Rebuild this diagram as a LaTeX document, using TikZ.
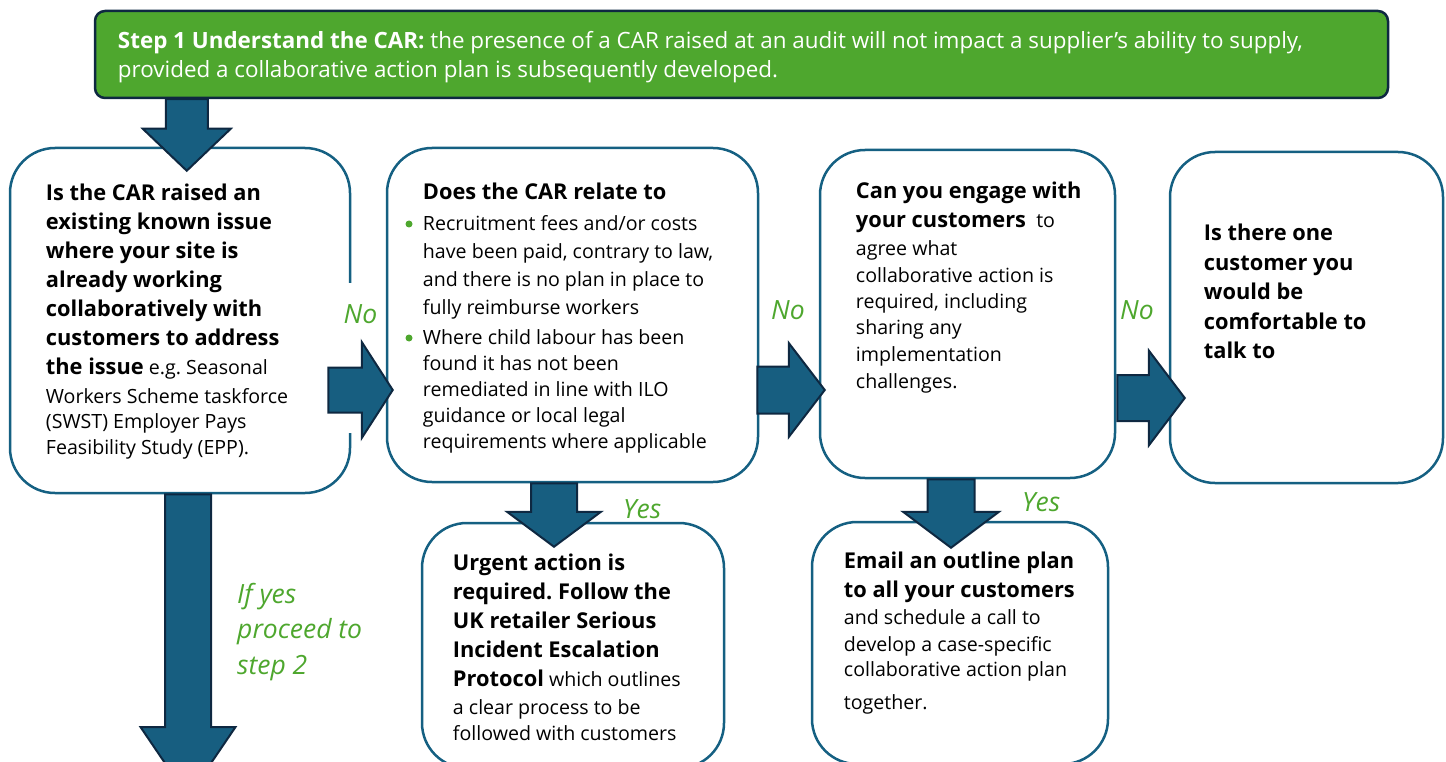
\documentclass[tikz,border=0pt]{standalone}
\usepackage{fontspec}
\setmainfont{Open Sans}
\usetikzlibrary{calc}
\frenchspacing

\definecolor{stepgreen}{HTML}{4EA72E}
\definecolor{navy}{HTML}{0E2841}
\definecolor{cardblue}{HTML}{156082}
\definecolor{arrowblue}{HTML}{175E80}

% block arrows: start, tip, shaft half width, head half width, head length
\newcommand{\fatdown}[5]{%
  \path[fatarrow] let \p1=#1, \p2=#2 in
    (\x1-#3,\y1) -- (\x1-#3,\y2+#5) -- (\x1-#4,\y2+#5) -- (\x1,\y2)
    -- (\x1+#4,\y2+#5) -- (\x1+#3,\y2+#5) -- (\x1+#3,\y1) -- cycle;}
\newcommand{\fatright}[5]{%
  \path[fatarrow] let \p1=#1, \p2=#2 in
    (\x1,\y1+#3) -- (\x2-#5,\y1+#3) -- (\x2-#5,\y1+#4) -- (\x2,\y1)
    -- (\x2-#5,\y1-#4) -- (\x2-#5,\y1-#3) -- (\x1,\y1-#3) -- cycle;}
\newcommand{\hd}[1]{{\fontsize{21.8}{26}\selectfont\bfseries #1}}

\begin{document}
\begin{tikzpicture}[x=1pt,y=-1pt,
    stepbox/.style={draw=navy,line width=2.5pt,fill=stepgreen,rounded corners=10pt,inner sep=0pt},
    card/.style={draw=cardblue,line width=2.5pt,fill=white,rounded corners=45pt,inner sep=0pt},
    body/.style={anchor=base west,align=left,inner sep=0pt,font=\fontsize{19.6}{26}\selectfont},
    lab/.style={text=stepgreen,inner sep=0pt,font=\fontsize{26.5}{35.5}\selectfont\itshape},
    fatarrow/.style={fill=arrowblue,draw=navy,line width=2pt}]
  \useasboundingbox (0,0) rectangle (1446,762);

  \node[stepbox,minimum width=1293pt,minimum height=87pt] (step1) at (741.5,54.5) {};
  % text nodes are placed by the baseline of their last line
  \node[body,text=white,font=\fontsize{22.4}{29}\selectfont] (step1txt) at ($(step1.north west)+(24,68)$)
    {\textbf{Step 1 Understand the CAR:} the presence of a CAR raised at an audit will not impact a supplier’s ability to supply,\\
     provided a collaborative action plan is subsequently developed.};

  \node[card,minimum width=340pt,minimum height=345pt] (boxA) at (180,320.5) {};
  \node[card,minimum width=371pt,minimum height=334pt] (boxB) at (572.5,315) {};
  \node[card,minimum width=295pt,minimum height=328pt] (boxC) at (967.5,314) {};
  \node[card,minimum width=273pt,minimum height=331pt] (boxD) at (1306.5,317.5) {};
  \node[card,minimum width=302pt,minimum height=245pt] (boxE) at (573,645.5) {};
  \node[card,minimum width=296pt,minimum height=242pt] (boxF) at (960,643) {};

  \node[body] (txtA) at ($(boxA.north west)+(37,308)$)
    {\hd{Is the CAR raised an}\\[3pt]
     \hd{existing known issue}\\[3pt]
     \hd{where your site is}\\[3pt]
     \hd{already working}\\[3pt]
     \hd{collaboratively with}\\[3pt]
     \hd{customers to address}\\[3pt]
     \hd{the issue} e.g. Seasonal\\[3pt]
     Workers Scheme taskforce\\[-1pt]
     (SWST) Employer Pays\\
     Feasibility Study (EPP).};
  \node[body] (txtB) at ($(boxB.north west)+(37,301.5)$)
    {\hd{Does the CAR relate to}\\[5pt]
     Recruitment fees and/or costs\\[2pt]
     have been paid, contrary to law,\\[2pt]
     and there is no plan in place to\\[2pt]
     fully reimburse workers\\[4pt]
     Where child labour has been\\
     found it has not been\\
     remediated in line with ILO\\
     guidance or local legal\\
     requirements where applicable};
  \fill[stepgreen] (409,224) circle (3.5) (409,338) circle (3.5);
  \node[body] (txtC) at ($(boxC.north west)+(37,240)$)
    {\hd{Can you engage with}\\[3pt]
     \hd{your customers}\ \ to\\[2pt]
     agree what\\[1pt]
     collaborative action is\\
     required, including\\
     sharing any\\[1pt]
     implementation\\[1pt]
     challenges.};
  \node[body] (txtD) at ($(boxD.north west)+(35,208)$)
    {\hd{Is there one}\\[3.5pt]
     \hd{customer you}\\[3.5pt]
     \hd{would be}\\[3.5pt]
     \hd{comfortable to}\\[3.5pt]
     \hd{talk to}};
  \node[body] (txtE) at ($(boxE.north west)+(32,219)$)
    {\hd{Urgent action is}\\[3pt]
     \hd{required. Follow the}\\[3.5pt]
     \hd{UK retailer Serious}\\[3pt]
     \hd{Incident Escalation}\\[3pt]
     \hd{Protocol} which outlines\\[2pt]
     a clear process to be\\
     followed with customers};
  \node[body] (txtF) at ($(boxF.north west)+(33,189)$)
    {\hd{Email an outline plan}\\[3pt]
     \hd{to all your customers}\\[1pt]
     and schedule a call to\\[1pt]
     develop a case-specific\\[-1pt]
     collaborative action plan\\[7pt]
     together.};

  \node[lab,fill=white,inner xsep=5pt,text height=40pt,text depth=110pt,anchor=base] (no1) at (360.5,323) {No};
  \node[lab,anchor=base west] (no2) at (771,319) {No};
  \node[lab,anchor=base west] (no3) at (1120,319) {No};
  \node[lab,anchor=base west] (yes1) at (623,518) {Yes};
  \node[lab,anchor=base west] (yes2) at (1022,511) {Yes};
  \node[lab,anchor=base west,align=left] (ifyes) at (237,674) {If yes\\proceed to\\step 2};

  \coordinate (step2) at (188,797);
  \fatdown{($(step1.south west)+(93,0)$)}{($(boxA.north)+(8,24)$)}{21pt}{44pt}{42pt}
  \fatdown{($(boxA.south)+(8,0)$)}{(step2)}{23pt}{47.5pt}{70pt}
  \fatdown{($(boxB.south)+(-18.5,0)$)}{($(boxE.north)+(-19,25)$)}{23pt}{47pt}{35pt}
  \fatdown{($(boxC.south)+(-16.5,0)$)}{($(boxF.north)+(-9,27)$)}{23.5pt}{48pt}{36pt}
  \fatright{($(boxA.east)+(-23,69.5)$)}{($(boxB.west)+(7,75)$)}{22.5pt}{48pt}{31pt}
  \fatright{($(boxB.east)+(-2,75)$)}{($(boxC.west)+(6,76)$)}{23.5pt}{47pt}{36pt}
  \fatright{($(boxC.east)+(1,84)$)}{($(boxD.west)+(16,80.5)$)}{23pt}{47.5pt}{36pt}
\end{tikzpicture}
\end{document}
